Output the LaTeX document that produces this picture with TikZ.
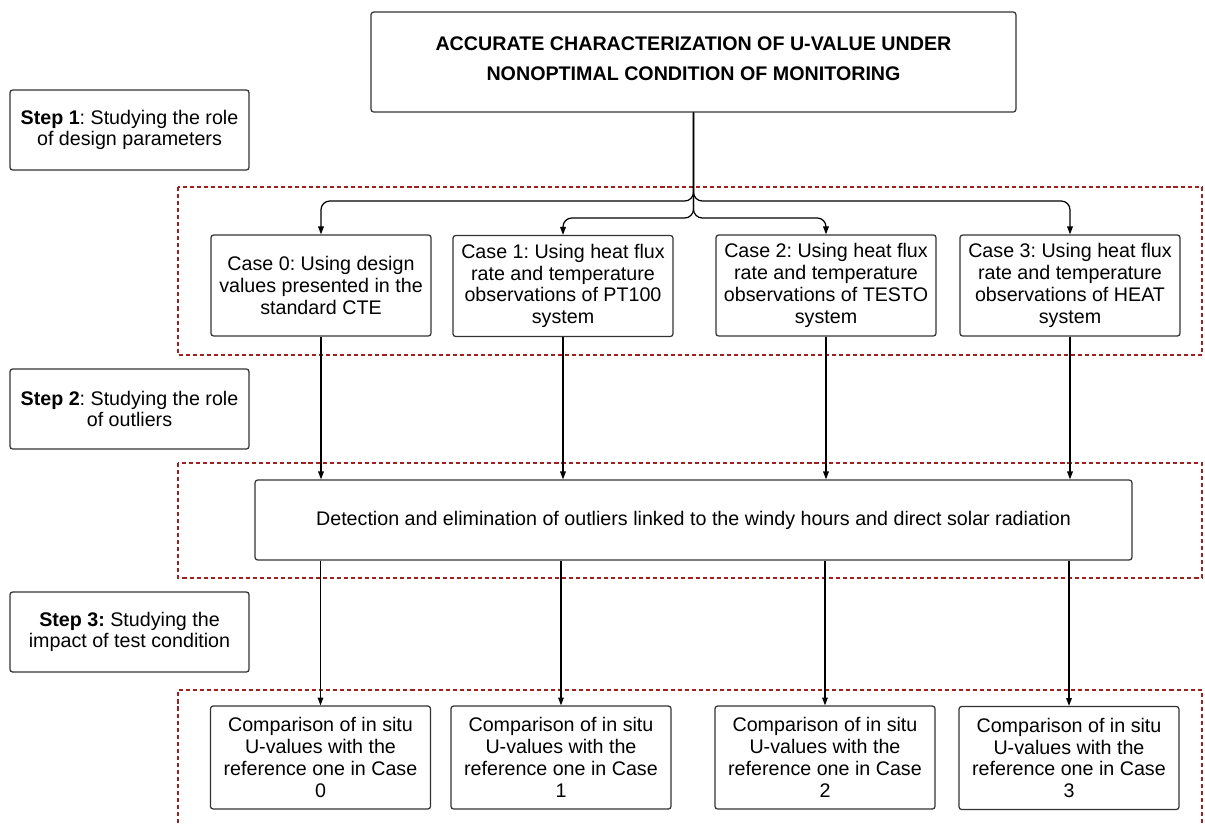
\documentclass[tikz,border=0pt]{standalone}
\usepackage{fontspec}
\setmainfont{Liberation Sans}
\usetikzlibrary{arrows.meta}
\definecolor{framered}{RGB}{160,32,32}
\frenchspacing

\begin{document}
\begin{tikzpicture}[x=0.02cm, y=-0.02cm,
    every node/.style={font=\fontsize{11.2}{12.4}\selectfont, align=center, inner sep=2pt},
    box/.style={draw=black!80, line width=0.7pt, rounded corners=1.5pt},
    stepbox/.style={box, minimum width=4.78cm, minimum height=1.6cm},
    casebox/.style={box, minimum width=4.4cm, minimum height=2.02cm},
    cmpbox/.style={box, minimum width=4.4cm, minimum height=2.06cm},
    arr/.style={-{Triangle[length=4.5pt, width=3.2pt]}, line width=0.7pt},
    regionframe/.style={draw=framered, line width=0.8pt, dash pattern=on 2.3pt off 1.7pt}]
    \useasboundingbox (0,0) rectangle (1205,823);
    % dashed regions
    \draw[regionframe] (178,187) rectangle (1202,355);
    \draw[regionframe] (178,463) rectangle (1202,578);
    \draw[regionframe] (178,830) |- (1202,690) -- (1202,830);

    \node[box, minimum width=12.9cm, minimum height=2cm, font=\bfseries\fontsize{11.2}{17}\selectfont] (title) at (693.5,62)
        {ACCURATE CHARACTERIZATION OF U-VALUE UNDER\\NONOPTIMAL CONDITION OF MONITORING\\[-18.7pt]\strut};

    \node[stepbox] (step1) at (129.5,130) {\textbf{Step 1}: Studying the role\\of design parameters};
    \node[stepbox] (step2) at (129.5,409) {\textbf{Step 2}: Studying the role\\of outliers};
    \node[stepbox] (step3) at (129.5,632) {\textbf{Step 3:} Studying the\\impact of test condition};

    \node[casebox] (case0) at (321,285.5) {Case 0: Using design\\values presented in the\\standard CTE};
    \node[casebox] (case1) at (563,286) {Case 1: Using heat flux\\rate and temperature\\observations of PT100\\system};
    \node[casebox] (case2) at (826,285.5) {Case 2: Using heat flux\\rate and temperature\\observations of TESTO\\system};
    \node[casebox] (case3) at (1070,285.5) {Case 3: Using heat flux\\rate and temperature\\observations of HEAT\\system};

    \node[box, minimum width=17.54cm, minimum height=1.6cm] (detect) at (693.5,520)
        {Detection and elimination of outliers linked to the windy hours and direct solar radiation};

    \node[cmpbox] (cmp0) at (320.5,757.5) {Comparison of in situ\\U-values with the\\reference one in Case\\0};
    \node[cmpbox] (cmp1) at (561,757.5) {Comparison of in situ\\U-values with the\\reference one in Case\\1};
    \node[cmpbox] (cmp2) at (825,757.5) {Comparison of in situ\\U-values with the\\reference one in Case\\2};
    \node[cmpbox] (cmp3) at (1069,758) {Comparison of in situ\\U-values with the\\reference one in Case\\3};

    % fork from the title
    \coordinate (fork) at (693.5,201);
    \coordinate (fork2) at (693.5,218);
    \draw[arr, rounded corners=5pt] (title.south) -- (fork) -| (case0.north);
    \draw[arr, rounded corners=5pt] (title.south) -- (fork) -| (case3.north);
    \draw[arr, rounded corners=5pt] (title.south) -- (fork2) -| (case1.north);
    \draw[arr, rounded corners=5pt] (title.south) -- (fork2) -| (case2.north);

    \foreach \c in {0,...,3} {
        \draw[arr] (case\c) -- (case\c |- detect.north);
        \draw[arr] (detect.south -| cmp\c) -- (cmp\c);
    }
\end{tikzpicture}
\end{document}
